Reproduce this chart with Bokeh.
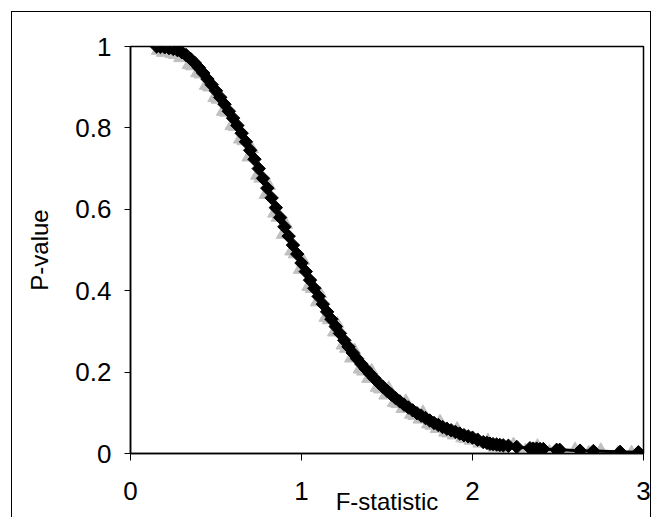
from bokeh.plotting import figure
from bokeh.models import Range1d, FixedTicker
from bokeh.embed import file_html
from bokeh.resources import INLINE

# ---- data ----
f_stat = [0.153, 0.175, 0.200, 0.225, 0.250, 0.275, 0.300, 0.325, 0.350, 0.375,
          0.400, 0.425, 0.450, 0.475, 0.500, 0.525, 0.550, 0.575, 0.600, 0.625,
          0.650, 0.675, 0.700, 0.725, 0.750, 0.775, 0.800, 0.825, 0.850, 0.875,
          0.900, 0.925, 0.950, 0.975, 1.000, 1.025, 1.050, 1.075, 1.100, 1.125,
          1.150, 1.175, 1.200, 1.225, 1.250, 1.275, 1.300, 1.325, 1.350, 1.375,
          1.400, 1.425, 1.450, 1.475, 1.500, 1.525, 1.550, 1.575, 1.600, 1.625,
          1.650, 1.675, 1.700, 1.725, 1.750, 1.775, 1.800, 1.825, 1.850, 1.875,
          1.900, 1.925, 1.950, 1.975, 2.000, 2.030, 2.063, 2.085, 2.102, 2.120,
          2.141, 2.160, 2.180, 2.210, 2.259, 2.336, 2.355, 2.375, 2.395, 2.414,
          2.492, 2.510, 2.629, 2.707, 2.863, 2.970]
p_value = [1.000, 0.999, 0.998, 0.996, 0.994, 0.991, 0.986, 0.979, 0.970, 0.960,
           0.948, 0.935, 0.920, 0.906, 0.891, 0.875, 0.858, 0.841, 0.824, 0.806,
           0.787, 0.766, 0.745, 0.723, 0.700, 0.676, 0.652, 0.628, 0.604, 0.580,
           0.557, 0.534, 0.512, 0.490, 0.468, 0.447, 0.426, 0.406, 0.386, 0.367,
           0.348, 0.330, 0.312, 0.295, 0.278, 0.262, 0.247, 0.233, 0.220, 0.208,
           0.196, 0.185, 0.174, 0.164, 0.154, 0.145, 0.136, 0.128, 0.120, 0.113,
           0.106, 0.099, 0.093, 0.087, 0.081, 0.075, 0.070, 0.065, 0.061, 0.057,
           0.053, 0.049, 0.045, 0.042, 0.039, 0.034, 0.028, 0.026, 0.024, 0.023,
           0.022, 0.021, 0.020, 0.019, 0.016, 0.013, 0.012, 0.012, 0.011, 0.011,
           0.009, 0.009, 0.007, 0.006, 0.004, 0.003]

sim_f = [0.16, 0.19, 0.21, 0.24, 0.26, 0.29, 0.31, 0.34, 0.36, 0.39,
         0.41, 0.44, 0.46, 0.49, 0.51, 0.54, 0.56, 0.59, 0.61, 0.64,
         0.66, 0.69, 0.71, 0.74, 0.76, 0.79, 0.81, 0.84, 0.86, 0.89,
         0.91, 0.94, 0.96, 0.99, 1.01, 1.04, 1.06, 1.09, 1.11, 1.14,
         1.16, 1.19, 1.21, 1.24, 1.26, 1.29, 1.31, 1.34, 1.36, 1.39,
         1.41, 1.44, 1.46, 1.49, 1.51, 1.54, 1.56, 1.59, 1.61, 1.64,
         1.66, 1.69, 1.71, 1.74, 1.76, 1.79, 1.81, 1.84, 1.86, 1.89,
         1.91, 1.94, 1.96, 1.99, 2.04, 2.09, 2.13, 2.18, 2.24, 2.31,
         2.38, 2.45, 2.52, 2.60, 2.68, 2.75, 2.85, 2.93]
sim_p = [0.990, 0.985, 0.990, 0.982, 0.980, 0.972, 0.974, 0.955, 0.952, 0.935,
         0.932, 0.904, 0.900, 0.874, 0.870, 0.840, 0.838, 0.805, 0.803, 0.772,
         0.768, 0.728, 0.748, 0.683, 0.676, 0.636, 0.658, 0.590, 0.580, 0.538,
         0.562, 0.497, 0.490, 0.452, 0.474, 0.410, 0.405, 0.372, 0.392, 0.334,
         0.328, 0.298, 0.318, 0.266, 0.258, 0.234, 0.253, 0.207, 0.202, 0.184,
         0.203, 0.162, 0.158, 0.143, 0.160, 0.125, 0.122, 0.110, 0.128, 0.096,
         0.093, 0.084, 0.101, 0.072, 0.069, 0.061, 0.078, 0.052, 0.050, 0.045,
         0.060, 0.038, 0.036, 0.032, 0.025, 0.032, 0.015, 0.013, 0.022, 0.007,
         0.018, 0.004, 0.003, 0.010, 0.002, 0.008, 0.001, 0.002]

x_ticks = [0, 1, 2, 3]
x_tick_labels = ["0", "1", "2", "3"]
y_ticks = [0, 0.2, 0.4, 0.6, 0.8, 1]
y_tick_labels = ["0", "0.2", "0.4", "0.6", "0.8", "1"]

FONT = "Liberation Sans"

p = figure(width=654, height=517, x_range=Range1d(0, 3), y_range=Range1d(0, 1),
           output_backend="svg", toolbar_location=None,
           min_border_left=130, min_border_right=11, min_border_top=46,
           min_border_bottom=64)
p.grid.visible = False
p.outline_line_color = "black"
p.outline_line_width = 1.5
p.background_fill_color = "white"
p.border_fill_alpha = 0
# outer chart-area border (left, top, right edges)
p.styles = {
    "background-color": "white",
    "background-image": "linear-gradient(black, black), linear-gradient(black, black), linear-gradient(black, black)",
    "background-size": "1px 520px, 640px 1px, 1px 520px",
    "background-position": "11px 11px, 11px 11px, 650px 11px",
    "background-repeat": "no-repeat",
}

# simulated (gray triangles) under the theoretical series
p.scatter(sim_f, sim_p, marker="triangle", size=13, fill_color="#C0C0C0",
          line_color="#C0C0C0")
p.line(f_stat, p_value, line_color="black", line_width=3)
p.scatter(f_stat, p_value, marker="square", angle=0.7853981634, size=9.5,
          fill_color="black", line_color="black")

for ax, ticks, labels, tick_out, standoff in (
        (p.xaxis[0], x_ticks, x_tick_labels, 7, 21),
        (p.yaxis[0], y_ticks, y_tick_labels, 6, 13)):
    ax.ticker = FixedTicker(ticks=ticks)
    ax.major_label_overrides = {t: l for t, l in zip(ticks, labels)}
    ax.minor_tick_line_color = None
    ax.major_tick_in = 0
    ax.major_tick_out = tick_out
    ax.major_tick_line_color = "black"
    ax.major_tick_line_width = 1
    ax.axis_line_color = "black"
    ax.axis_line_width = 1.5
    ax.major_label_text_font = FONT
    ax.major_label_text_font_size = "26px"
    ax.major_label_text_color = "black"
    ax.major_label_standoff = standoff

for ax, title, st in ((p.xaxis[0], "F-statistic", -15), (p.yaxis[0], "P-value", 19)):
    ax.axis_label = title
    ax.axis_label_text_font = FONT
    ax.axis_label_text_font_size = "24px"
    ax.axis_label_text_font_style = "normal"
    ax.axis_label_text_color = "black"
    ax.axis_label_standoff = st

open("out.html", "w").write(file_html(p, INLINE))
